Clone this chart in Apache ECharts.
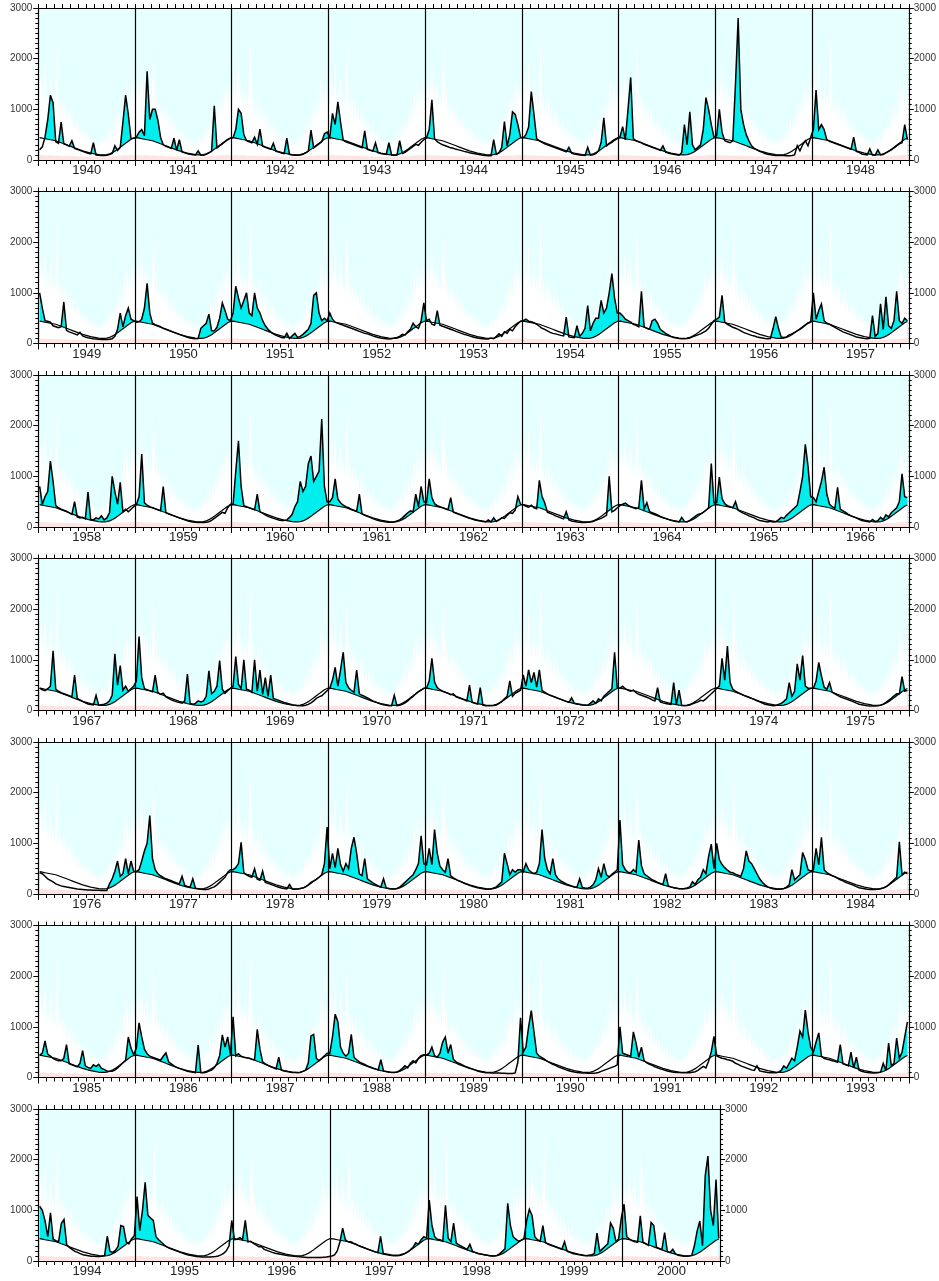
<!DOCTYPE html>
<html><head><meta charset="utf-8">
<script src="https://cdn.jsdelivr.net/npm/echarts@6/dist/echarts.min.js"></script>
<style>html,body{margin:0;padding:0;background:#fff}#c{width:939px;height:1281px}</style>
</head><body><div id="c"></div>
<script>
// ---------- DATA ----------
const panelStartYears = [1940, 1949, 1958, 1967, 1976, 1985, 1994];
const panelYearCounts = [9, 9, 9, 9, 9, 9, 7];
const yTickValues = [0, 1000, 2000, 3000];

// climatological daily mean (36 steps / year)
const climMean = [440,430,420,410,400,390,380,360,340,320,300,280,260,240,220,200,180,165,150,135,125,115,105,100,100,105,120,145,175,210,250,290,330,370,410,435];
// climatological maximum envelope (72 steps / year)
const climMax = [1500,1150,1800,1200,1450,2000,1100,1500,1050,1700,1000,1350,950,1600,2500,900,1400,850,1200,800,1300,750,1050,700,1100,620,950,580,850,520,800,460,700,420,650,380,600,340,550,310,500,290,450,270,420,260,400,270,450,300,520,330,600,380,700,440,850,500,900,560,1100,650,1200,760,1400,850,1700,950,1500,1050,1600,1100];
// climatological minimum (24 steps / year)
const climMin = [95,100,90,95,85,90,80,85,75,80,70,75,65,70,65,70,60,70,75,80,85,90,95,100];

// observed flow, 36 steps per year
const q1940 = [200,260,450,790,1280,1130,360,330,750,320,300,270,380,230,210,190,170,150,135,120,340,100,95,90,90,95,110,130,280,190,250,750,1280,900,420,430];
const q1941 = [450,550,600,480,1750,800,1000,1000,790,450,300,270,250,230,430,190,400,160,140,125,115,105,100,180,95,95,110,140,170,1070,240,280,320,360,400,430];
const q1942 = [440,600,1000,920,500,380,360,340,450,310,610,270,250,230,210,330,170,155,140,125,430,110,100,95,95,100,115,140,170,590,240,280,320,360,520,550];
const q1943 = [450,920,700,1150,750,390,360,340,320,300,280,260,240,575,210,190,175,340,145,130,120,110,340,100,95,100,380,130,150,190,230,270,310,290,350,400];
const q1944 = [440,600,1190,420,360,330,300,280,260,240,230,210,200,185,170,160,145,135,125,115,105,95,90,85,85,400,110,140,250,760,280,500,950,900,700,450];
const q1945 = [440,500,650,1350,900,420,380,350,320,300,280,260,240,220,200,180,160,250,135,120,110,100,95,90,250,95,105,125,180,350,830,280,320,350,390,420];
const q1946 = [450,660,400,1000,1630,420,380,360,340,310,290,270,250,230,210,190,280,155,140,125,115,105,95,150,700,300,950,300,200,250,300,600,1230,1000,700,450];
const q1947 = [480,1000,550,380,360,340,380,1500,2800,1000,700,500,380,280,230,200,170,150,130,115,105,95,90,90,90,90,85,85,90,100,280,180,300,380,280,450];
const q1948 = [600,1380,600,700,600,400,370,350,330,310,290,270,250,230,210,450,170,150,120,110,100,220,100,95,200,100,110,140,170,200,240,280,320,340,700,400];
const q1949 = [1000,700,450,440,420,350,330,310,330,820,260,230,210,190,170,220,150,130,115,105,95,90,85,80,80,80,85,95,140,280,600,330,550,700,480,450];
const q1950 = [420,430,480,700,1190,600,400,370,350,330,300,280,260,240,220,200,180,160,140,125,110,100,95,100,300,350,400,580,250,250,320,500,800,650,480,450];
const q1951 = [600,1130,900,700,850,1000,600,550,1000,700,600,450,350,280,230,190,160,140,120,110,200,100,150,200,120,140,180,230,280,400,950,1000,600,450,500,450];
const q1952 = [600,480,420,400,380,360,340,320,300,280,260,240,220,200,190,170,150,135,120,110,100,95,90,95,110,120,140,180,170,230,280,400,330,300,450,800];
const q1953 = [450,480,380,360,650,360,340,320,300,280,260,240,220,200,180,165,150,135,120,110,100,95,90,90,110,95,140,190,140,230,200,280,250,330,390,440];
const q1954 = [450,480,440,430,410,380,340,300,280,250,220,200,190,175,160,150,520,130,125,115,350,140,200,300,750,250,400,500,500,850,600,700,1000,1380,900,600];
const q1955 = [600,550,480,450,420,380,360,330,1030,330,300,280,450,480,400,280,240,200,170,140,120,110,100,95,95,100,110,130,150,170,190,220,250,300,380,450];
const q1956 = [480,520,950,420,380,350,320,300,280,250,220,200,180,160,150,130,120,110,100,95,100,300,530,300,130,120,130,170,190,220,250,280,320,360,400,420];
const q1957 = [1000,480,650,780,450,400,380,350,320,290,260,230,210,190,170,150,130,120,110,100,95,100,550,140,200,785,280,920,350,300,450,1030,450,400,500,450];
const q1958 = [800,450,600,700,1300,900,420,380,350,330,310,280,250,500,200,180,190,160,690,150,140,180,160,220,140,180,280,1000,700,450,880,300,350,300,350,400];
const q1959 = [440,600,1440,480,430,400,380,360,340,320,800,280,260,240,220,200,180,160,140,125,110,100,95,90,90,90,95,105,130,170,210,250,290,270,380,450];
const q1960 = [450,1100,1700,800,420,400,380,360,340,650,300,270,240,210,190,170,155,140,130,130,140,190,250,400,500,900,700,800,1250,1400,900,1000,1100,2130,800,500];
const q1961 = [500,580,950,550,480,430,400,380,350,330,310,650,260,230,210,190,165,145,130,120,110,100,95,95,100,120,140,180,230,280,320,300,650,400,800,500];
const q1962 = [480,950,580,460,420,400,380,360,340,580,290,270,250,230,210,190,170,155,140,130,120,110,100,140,100,180,110,140,180,170,230,280,270,330,600,450];
const q1963 = [440,410,390,430,380,360,920,600,480,290,270,250,220,200,180,160,300,140,120,110,100,95,90,90,95,100,110,130,150,170,200,230,1000,300,330,380];
const q1964 = [420,450,470,430,400,380,360,380,920,360,480,310,280,260,240,210,190,170,150,135,120,110,100,190,110,100,130,170,210,250,260,290,330,380,1250,480];
const q1965 = [480,985,560,460,420,400,380,500,330,300,270,250,220,200,180,150,130,120,110,100,115,100,105,140,190,170,230,280,330,380,430,700,1000,1630,1200,600];
const q1966 = [580,500,700,900,1180,650,450,400,370,785,350,320,290,250,220,200,180,150,130,120,110,100,150,105,125,190,145,240,200,280,330,380,500,1050,600,580];
const q1967 = [440,410,390,430,480,1180,420,380,350,330,310,290,270,700,240,210,180,150,130,120,110,300,105,115,125,145,190,300,1120,500,885,400,480,380,430,480];
const q1968 = [580,1460,650,430,410,390,370,700,360,320,340,270,240,210,190,170,160,145,190,720,140,125,140,190,170,190,280,785,330,380,480,985,420,340,390,440];
const q1969 = [480,1065,520,430,1000,420,400,360,1000,380,800,320,650,280,700,240,220,200,180,160,145,130,115,105,95,95,95,105,120,150,190,240,270,290,340,390];
const q1970 = [440,600,850,480,800,1150,550,450,400,360,800,330,300,280,250,220,190,170,145,130,115,105,95,95,300,95,105,120,150,190,240,280,330,370,400,440];
const q1971 = [440,580,1030,560,450,410,380,360,340,310,330,270,250,230,210,190,500,160,140,125,450,105,95,95,95,100,110,140,180,230,280,585,280,340,370,400];
const q1972 = [700,480,800,550,750,460,800,400,360,330,300,280,260,240,220,200,180,160,250,145,135,125,115,110,105,140,190,140,230,190,280,330,380,430,1150,450];
const q1973 = [440,480,430,400,380,400,350,320,300,280,260,240,210,190,450,170,150,140,130,120,550,110,400,100,95,100,110,130,150,170,200,190,230,280,330,380];
const q1974 = [440,480,1030,600,1270,550,420,380,350,330,300,280,260,240,220,190,170,145,125,115,105,95,100,120,140,180,230,550,280,380,920,600,1085,480,440,440];
const q1975 = [440,580,950,680,460,420,550,360,330,300,270,250,230,210,190,170,145,125,115,105,95,90,90,90,95,105,125,160,200,240,290,330,330,670,380,400];
const q1976 = [420,400,350,300,270,240,200,180,160,150,140,130,120,110,100,95,90,85,80,80,75,75,75,70,70,70,200,300,450,650,350,400,700,400,650,450];
const q1977 = [440,480,650,850,1000,1550,700,480,400,360,330,300,280,260,240,220,200,350,170,150,135,300,115,105,95,90,90,100,120,140,180,230,280,330,430,480];
const q1978 = [480,520,600,1020,420,380,350,330,500,290,270,450,230,210,190,170,150,135,120,110,100,190,100,95,100,110,120,140,180,230,260,290,330,380,600,1320];
const q1979 = [500,800,520,900,580,450,600,500,900,1120,800,400,360,700,300,260,220,190,160,140,300,120,110,100,100,110,135,180,230,280,330,380,480,600,1150,600];
const q1980 = [580,900,580,1270,800,550,480,430,700,360,320,290,260,240,210,190,170,150,140,125,115,105,95,95,100,120,140,190,240,805,600,380,480,430,480,480];
const q1981 = [440,600,480,430,400,430,600,1270,700,480,400,700,380,300,260,230,200,180,160,145,135,300,130,120,115,135,180,280,500,330,600,380,340,390,430,480];
const q1982 = [1460,580,480,430,420,480,430,1065,560,400,360,320,280,260,230,210,190,400,160,140,125,115,105,105,110,120,140,240,190,280,330,480,400,740,985,500];
const q1983 = [1000,680,580,520,470,430,420,390,370,350,500,850,650,600,500,400,300,230,180,140,120,105,95,95,100,110,135,180,480,280,330,380,820,680,480,450];
const q1984 = [480,900,580,1120,480,420,390,360,340,310,280,260,230,210,190,170,145,125,115,105,95,90,90,90,95,105,120,140,180,230,280,330,1030,380,430,400];
const q1985 = [440,480,720,460,420,380,350,330,330,380,650,270,250,230,210,280,530,230,200,180,250,220,260,180,160,130,125,125,145,190,240,290,340,800,580,450];
const q1986 = [580,1080,800,560,470,420,400,380,360,340,420,485,310,270,230,200,180,160,140,125,115,105,95,640,95,95,105,125,145,190,280,430,840,600,800,450];
const q1987 = [1200,430,470,420,400,390,380,360,350,950,560,310,270,240,210,190,170,400,145,130,120,110,100,100,95,100,120,145,290,820,850,380,330,380,430,480];
const q1988 = [480,800,1250,1100,600,480,420,480,850,400,350,310,280,260,230,210,190,170,150,350,130,120,110,100,100,110,135,180,230,190,280,330,290,380,430,450];
const q1989 = [440,480,600,430,400,480,700,800,480,650,360,310,280,260,230,210,190,170,150,130,115,105,95,95,90,90,90,90,85,85,80,80,80,90,300,1180];
const q1990 = [500,600,1000,1320,900,480,420,390,360,320,290,260,240,210,190,170,150,135,120,110,100,95,90,90,85,85,85,90,100,120,140,160,180,200,220,250];
const q1991 = [1000,480,460,440,420,900,680,400,600,330,290,260,240,210,190,170,155,140,125,115,105,100,100,95,95,95,95,105,115,140,180,220,190,320,510,810];
const q1992 = [430,400,380,370,350,340,320,280,260,230,210,190,170,150,140,230,130,120,110,100,95,95,95,105,140,230,180,280,380,330,600,915,800,1330,900,600];
const q1993 = [500,700,880,420,380,360,350,330,320,300,650,270,250,230,500,190,400,145,125,110,100,95,90,90,95,105,280,140,680,230,280,780,380,500,800,1100];
const q1994 = [1080,1000,790,480,950,430,400,380,740,820,320,270,230,190,170,145,125,115,105,95,95,90,90,95,105,490,190,170,210,290,700,680,380,340,440,500];
const q1995 = [1270,600,1000,1555,900,850,800,480,420,370,320,280,250,230,210,190,170,150,135,120,110,100,90,85,80,80,80,80,85,90,100,120,150,200,300,800];
const q1996 = [420,430,460,420,800,380,390,350,320,280,280,230,210,190,170,155,145,135,125,115,105,100,95,90,85,80,75,70,70,70,70,70,70,75,80,90];
const q1997 = [100,120,200,380,650,420,380,380,350,330,300,280,260,240,220,200,180,165,485,150,140,130,120,115,115,120,135,150,180,220,270,360,330,420,480,450];
const q1998 = [1200,700,480,430,420,390,1100,450,380,750,350,320,290,260,230,330,190,170,150,140,130,120,110,100,100,110,140,190,240,1140,700,480,430,390,410,440];
const q1999 = [800,1020,900,480,420,390,700,360,330,310,290,270,250,230,380,190,170,150,140,130,120,110,105,115,125,145,550,190,240,290,340,750,650,380,440,850];
const q2000 = [1120,480,430,400,380,370,890,370,340,310,760,700,270,250,230,560,190,170,230,140,115,105,95,95,100,110,300,590,790,300,1680,2070,1000,700,1610,450];

const firstYear = 1940;
const obsYears = [q1940,q1941,q1942,q1943,q1944,q1945,q1946,q1947,q1948,q1949,q1950,q1951,q1952,q1953,q1954,q1955,q1956,q1957,q1958,q1959,q1960,q1961,q1962,q1963,q1964,q1965,q1966,q1967,q1968,q1969,q1970,q1971,q1972,q1973,q1974,q1975,q1976,q1977,q1978,q1979,q1980,q1981,q1982,q1983,q1984,q1985,q1986,q1987,q1988,q1989,q1990,q1991,q1992,q1993,q1994,q1995,q1996,q1997,q1998,q1999,q2000];

// ---------- LAYOUT / STYLE ----------
const LEFT = 38.3, YEAR_W = 97.4, TOP0 = 8, STEP = 183.5, PH = 152;
const C_BG = '#e6ffff', C_FILL = '#00eeee', C_MIN = '#ffe4e4';
const FONT = 'Liberation Sans, Arial, Helvetica, sans-serif';

const grids = [], xAxes = [], yAxes = [], series = [];
const noLine = {width: 0, opacity: 0};

panelStartYears.forEach((y0, p) => {
  const n = panelYearCounts[p];
  grids.push({left: LEFT, top: TOP0 + STEP * p, width: YEAR_W * n, height: PH,
    show: true, backgroundColor: C_BG, borderWidth: 0, containLabel: false});

  const xData = xAxes.length;
  xAxes.push({type: 'value', gridIndex: p, min: y0, max: y0 + n, interval: 1, position: 'bottom', z: 10,
    axisLine: {show: true, onZero: false, lineStyle: {color: '#000', width: 1}},
    axisTick: {show: true, length: 6, lineStyle: {color: '#000', width: 1}},
    minorTick: {show: true, splitNumber: 12, length: 4, lineStyle: {color: '#000', width: 1}},
    axisLabel: {show: false},
    splitLine: {show: true, lineStyle: {color: '#000', width: 1.2}}});
  xAxes.push({type: 'value', gridIndex: p, min: y0, max: y0 + n, interval: 1, position: 'top', z: 10,
    axisLine: {show: true, onZero: false, lineStyle: {color: '#000', width: 1}},
    axisTick: {show: true, length: 4, lineStyle: {color: '#000', width: 1}},
    minorTick: {show: true, splitNumber: 12, length: 4, lineStyle: {color: '#000', width: 1}},
    axisLabel: {show: false}, splitLine: {show: false}});
  const cats = [];
  for (let k = 0; k < n; k++) cats.push(String(y0 + k));
  xAxes.push({type: 'category', gridIndex: p, position: 'bottom', data: cats, boundaryGap: true,
    axisLine: {show: false, onZero: false}, axisTick: {show: false}, splitLine: {show: false},
    axisLabel: {show: true, fontSize: 13, color: '#222', margin: 4, fontFamily: FONT}});

  const yi = yAxes.length;
  const yCommon = {type: 'value', gridIndex: p, min: yTickValues[0], max: yTickValues[yTickValues.length - 1],
    interval: yTickValues[1] - yTickValues[0], z: 10,
    axisTick: {show: true, length: 5, lineStyle: {color: '#000', width: 1}},
    minorTick: {show: true, splitNumber: 10, length: 3, lineStyle: {color: '#000', width: 1}},
    splitLine: {show: false}};
  const fmt = v => String(v);
  yAxes.push(Object.assign({}, yCommon, {position: 'left',
    axisLine: {show: true, onZero: false, lineStyle: {color: '#000', width: 1}},
    axisLabel: {show: true, fontSize: 10, color: '#333', margin: 6, fontFamily: FONT, formatter: fmt}}));
  yAxes.push(Object.assign({}, yCommon, {position: 'right',
    axisLine: {show: true, onZero: false, lineStyle: {color: '#000', width: 1}},
    axisLabel: {show: true, fontSize: 10, color: '#333', margin: 5, fontFamily: FONT, formatter: fmt}}));

  const env = [], minPts = [], obsPts = [], meanPts = [], cover = [];
  for (let k = 0; k < n; k++) {
    const yr = y0 + k;
    const q = obsYears[yr - firstYear];
    climMax.forEach((v, i) => env.push([yr + i / climMax.length, v]));
    climMin.forEach((v, i) => minPts.push([yr + i / climMin.length, v]));
    q.forEach((v, i) => {
      const x = yr + (i + 0.5) / q.length;
      obsPts.push([x, v]);
      meanPts.push([x, climMean[i]]);
      cover.push([x, Math.min(v, climMean[i])]);
    });
  }
  env.push([y0 + n, climMax[0]]);
  minPts.push([y0 + n, climMin[0]]);

  const base = {type: 'line', xAxisIndex: xData, yAxisIndex: yi, symbol: 'none', showSymbol: false,
    silent: true, animation: false, smooth: false};
  series.push(Object.assign({}, base, {data: env, z: 1, lineStyle: noLine, areaStyle: {color: '#ffffff', opacity: 1}}));
  series.push(Object.assign({}, base, {data: obsPts, z: 2, lineStyle: noLine, areaStyle: {color: C_FILL, opacity: 1}}));
  series.push(Object.assign({}, base, {data: cover, z: 3, lineStyle: noLine, areaStyle: {color: '#ffffff', opacity: 1}}));
  series.push(Object.assign({}, base, {data: minPts, z: 4, lineStyle: noLine, areaStyle: {color: C_MIN, opacity: 1}}));
  series.push(Object.assign({}, base, {data: meanPts, z: 5, lineStyle: {color: '#000', width: 1.2}}));
  series.push(Object.assign({}, base, {data: obsPts, z: 6, lineStyle: {color: '#000', width: 1.5, join: 'miter', miterLimit: 4}}));
});

const chart = echarts.init(document.getElementById('c'), null, {renderer: 'canvas'});
chart.setOption({animation: false, backgroundColor: '#ffffff', grid: grids, xAxis: xAxes, yAxis: yAxes, series: series});

const bad = [];
obsYears.forEach((a, i) => { if (a.length !== 36) bad.push((firstYear + i) + ':' + a.length); });
if (climMean.length !== 36) bad.push('mean');
if (climMax.length !== 72) bad.push('max');
if (bad.length) throw new Error('bad lengths ' + bad.join(','));
</script>
</body></html>
